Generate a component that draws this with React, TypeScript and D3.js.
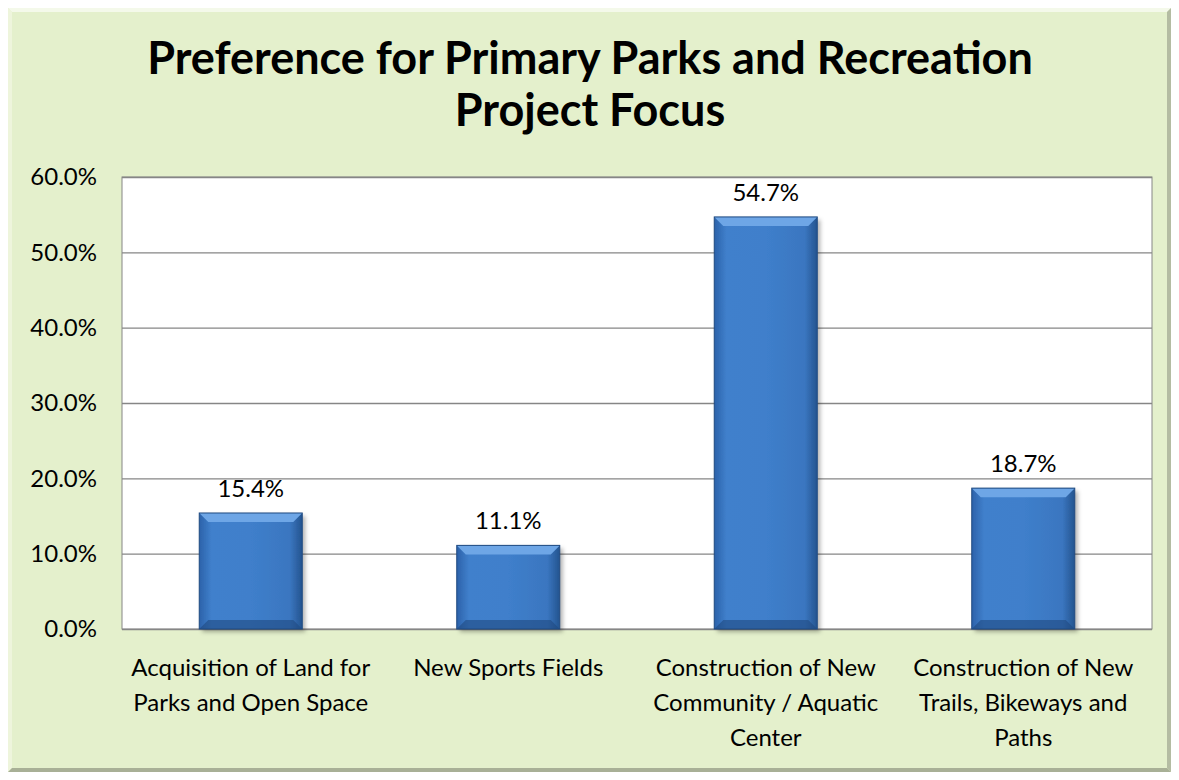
import React, { useEffect, useRef } from 'react';
import * as d3 from 'd3';

const categories: string[][] = [
  ['Acquisition of Land for', 'Parks and Open Space'],
  ['New Sports Fields'],
  ['Construction of New', 'Community / Aquatic', 'Center'],
  ['Construction of New', 'Trails, Bikeways and', 'Paths'],
];
const values = [15.4, 11.1, 54.7, 18.7];
const yTicks = [0, 10, 20, 30, 40, 50, 60];
const titleLines = ['Preference for Primary Parks and Recreation', 'Project Focus'];

const W = 1179;
const H = 780;
const FONT = 'Lato, "Open Sans", sans-serif';

const App: React.FC = () => {
  const svgRef = useRef<SVGSVGElement>(null);

  useEffect(() => {
    if (!svgRef.current) return;
    const svg = d3.select(svgRef.current);
    svg.selectAll('*').remove();

    const defs = svg.append('defs');
    const barGrad = defs.append('linearGradient').attr('id', 'barGrad')
      .attr('x1', '0%').attr('x2', '100%').attr('y1', '0%').attr('y2', '0%');
    barGrad.append('stop').attr('offset', '0%').attr('stop-color', '#2c62aa');
    barGrad.append('stop').attr('offset', '12%').attr('stop-color', '#4080cc');
    barGrad.append('stop').attr('offset', '50%').attr('stop-color', '#3f7fcb');
    barGrad.append('stop').attr('offset', '88%').attr('stop-color', '#3a76c0');
    barGrad.append('stop').attr('offset', '100%').attr('stop-color', '#24548f');

    const shadow = defs.append('filter').attr('id', 'shadow')
      .attr('x', '-10%').attr('y', '-10%').attr('width', '130%').attr('height', '130%');
    shadow.append('feDropShadow').attr('dx', 3).attr('dy', 3).attr('stdDeviation', 2)
      .attr('flood-color', '#000').attr('flood-opacity', 0.3);

    // frame with bevel
    svg.append('rect').attr('x', 0).attr('y', 0).attr('width', W).attr('height', H).attr('fill', '#8c9480');
    svg.append('rect').attr('x', 2).attr('y', 2).attr('width', W - 4).attr('height', H - 4).attr('fill', '#e4f0cc');
    const bw = 10;
    svg.append('polygon')
      .attr('points', `2,2 ${W - 2},2 ${W - 2 - bw},${2 + bw} ${2 + bw},${2 + bw}`)
      .attr('fill', '#f4f9ea');
    svg.append('polygon')
      .attr('points', `2,2 ${2 + bw},${2 + bw} ${2 + bw},${H - 2 - bw} 2,${H - 2}`)
      .attr('fill', '#eef5dc');
    svg.append('polygon')
      .attr('points', `${W - 2},2 ${W - 2},${H - 2} ${W - 2 - bw},${H - 2 - bw} ${W - 2 - bw},${2 + bw}`)
      .attr('fill', '#b4bca2');
    svg.append('polygon')
      .attr('points', `2,${H - 2} ${W - 2},${H - 2} ${W - 2 - bw},${H - 2 - bw} ${2 + bw},${H - 2 - bw}`)
      .attr('fill', '#a8b096');

    // title
    titleLines.forEach((t, i) => {
      svg.append('text')
        .attr('x', 590).attr('y', 74 + i * 52)
        .attr('text-anchor', 'middle')
        .attr('font-family', FONT).attr('font-weight', 'bold')
        .attr('font-size', '45px').attr('fill', '#000')
        .text(t);
    });

    const margin = { left: 122, right: W - 1152, top: 177, bottom: H - 629 };
    const x = d3.scaleBand<number>()
      .domain(values.map((_, i) => i))
      .range([margin.left, W - margin.right])
      .paddingInner(0.6).paddingOuter(0.3);
    const y = d3.scaleLinear().domain([0, 60]).range([H - margin.bottom, margin.top]);

    svg.append('rect')
      .attr('x', margin.left).attr('y', margin.top)
      .attr('width', W - margin.left - margin.right).attr('height', H - margin.top - margin.bottom)
      .attr('fill', '#fff').attr('stroke', '#868686').attr('stroke-width', 1);

    const grid = svg.append('g')
      .attr('transform', `translate(${margin.left},0)`)
      .call(d3.axisLeft(y).tickValues(yTicks).tickSize(-(W - margin.left - margin.right)).tickFormat(() => ''));
    grid.select('.domain').remove();
    grid.selectAll('line').attr('stroke', '#868686').attr('stroke-width', 1.3);

    const axis = svg.append('g')
      .attr('transform', `translate(${margin.left},0)`)
      .call(d3.axisLeft(y).tickValues(yTicks).tickSize(0).tickPadding(25).tickFormat((d) => `${(+d).toFixed(1)}%`));
    axis.select('.domain').remove();
    axis.selectAll('text').attr('font-family', FONT).attr('font-size', '24px').attr('fill', '#000');

    const bars = svg.append('g');
    values.forEach((v, i) => {
      const bx = x(i)!;
      const w = x.bandwidth();
      const by = y(v);
      const bh = y(0) - by;
      const g = bars.append('g');
      g.append('rect').attr('x', bx).attr('y', by).attr('width', w).attr('height', bh)
        .attr('fill', 'url(#barGrad)').attr('filter', 'url(#shadow)');
      const b = 9;
      g.append('polygon')
        .attr('points', `${bx},${by} ${bx + w},${by} ${bx + w - b},${by + b} ${bx + b},${by + b}`)
        .attr('fill', '#6ea6e6');
      g.append('polygon')
        .attr('points', `${bx},${by + bh} ${bx + w},${by + bh} ${bx + w - b},${by + bh - b} ${bx + b},${by + bh - b}`)
        .attr('fill', '#1f4a80').attr('opacity', 0.6);
      g.append('rect').attr('x', bx).attr('y', by).attr('width', w).attr('height', bh)
        .attr('fill', 'none').attr('stroke', '#1f4a80').attr('stroke-width', 1);
      g.append('text')
        .attr('x', bx + w / 2).attr('y', by - 16)
        .attr('text-anchor', 'middle')
        .attr('font-family', FONT).attr('font-size', '24px').attr('fill', '#000')
        .text(`${v.toFixed(1)}%`);
    });

    categories.forEach((lines, i) => {
      const cx = x(i)! + x.bandwidth() / 2;
      lines.forEach((l, j) => {
        svg.append('text')
          .attr('x', cx).attr('y', 676 + j * 35)
          .attr('text-anchor', 'middle')
          .attr('font-family', FONT).attr('font-size', '24px').attr('fill', '#000')
          .text(l);
      });
    });
  }, []);

  return <svg ref={svgRef} width={W} height={H} style={{ display: 'block', margin: '-8px' }} />;
};

export default App;
